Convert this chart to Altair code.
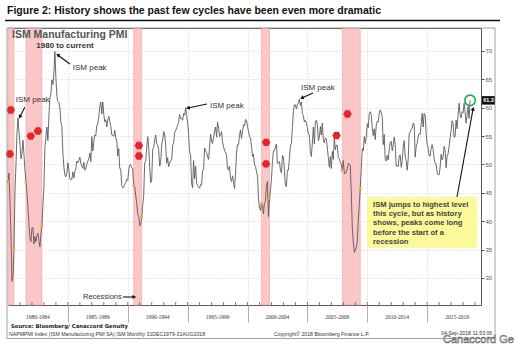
import math
import altair as alt
import pandas as pd

# ---------------- data ----------------
pmi_1980_84 = [47.0, 48.5, 43.6, 37.4, 29.4, 30.3, 35.0, 45.5, 50.1, 55.5, 58.2, 55.8,
               53.4, 51.0, 51.9, 54.3, 51.9, 49.0, 47.0, 45.0, 42.5, 39.5, 37.0, 36.4,
               38.8, 38.9, 36.0, 37.3, 36.4, 37.4, 37.9, 36.6, 35.5, 37.7, 39.3, 42.8,
               46.0, 53.2, 54.6, 56.6, 54.2, 58.4, 61.8, 62.4, 64.9, 64.1, 66.0, 69.9,
               65.3, 62.0, 61.1, 60.9, 60.0, 57.4, 56.7, 52.0, 49.5, 48.1, 47.8, 48.5]
pmi_1985_89 = [50.3, 49.0, 47.5, 47.3, 47.4, 48.7, 47.6, 48.8, 49.2, 50.6, 50.3, 50.7,
               51.3, 50.1, 49.7, 49.3, 50.4, 49.0, 49.2, 50.1, 50.6, 51.0, 52.0, 50.5,
               54.9, 52.4, 53.9, 55.2, 55.0, 56.9, 57.1, 58.5, 60.2, 61.0, 58.9, 61.0,
               58.8, 57.5, 57.9, 56.6, 57.8, 58.5, 57.6, 56.8, 55.2, 55.1, 55.0, 56.0,
               54.7, 54.1, 51.5, 52.8, 49.3, 49.2, 46.3, 45.9, 46.0, 46.5, 46.8, 47.4]
pmi_1990_94 = [47.2, 49.1, 49.9, 50.0, 49.5, 49.2, 46.3, 46.1, 44.5, 43.2, 41.3, 40.8,
               39.2, 39.4, 40.7, 42.8, 44.5, 50.3, 50.6, 52.9, 54.9, 53.1, 49.5, 46.8,
               47.3, 52.7, 53.0, 54.3, 55.2, 53.6, 53.4, 52.6, 49.7, 50.4, 53.6, 54.2,
               55.8, 55.2, 53.5, 50.2, 51.2, 49.6, 50.2, 50.7, 50.8, 53.4, 53.8, 55.6,
               56.0, 56.5, 56.9, 57.4, 58.8, 58.1, 58.1, 57.8, 59.0, 58.7, 60.0, 58.6]
pmi_1995_99 = [57.4, 55.1, 52.2, 51.6, 46.7, 45.9, 50.7, 47.5, 49.7, 46.6, 46.3, 46.0,
               45.8, 46.5, 46.4, 49.0, 49.1, 52.9, 52.4, 52.1, 51.3, 50.9, 53.2, 55.3,
               54.1, 53.7, 54.8, 55.9, 56.6, 54.8, 57.5, 56.4, 54.9, 55.3, 55.8, 53.9,
               53.1, 52.4, 52.2, 51.6, 49.3, 49.0, 49.7, 47.5, 47.0, 48.0, 46.8, 45.8,
               48.5, 52.1, 53.5, 53.5, 55.0, 56.1, 54.6, 55.8, 57.0, 56.8, 57.9, 57.8]
pmi_2000_04 = [56.7, 55.8, 54.9, 54.7, 53.2, 51.4, 51.8, 49.9, 49.7, 48.7, 47.9, 43.9,
               42.3, 41.9, 43.1, 42.7, 41.3, 43.2, 43.5, 46.3, 47.0, 40.8, 44.1, 45.3,
               47.5, 50.7, 52.4, 52.4, 53.1, 53.6, 50.2, 50.3, 50.5, 49.0, 48.5, 51.6,
               51.3, 48.8, 46.3, 46.1, 49.0, 49.0, 51.0, 53.3, 53.7, 56.5, 59.3, 60.5,
               60.5, 59.8, 60.6, 60.8, 61.5, 60.4, 61.0, 59.0, 58.5, 57.5, 57.8, 57.3]
pmi_2005_09 = [56.4, 55.3, 55.2, 52.3, 51.4, 53.8, 56.6, 53.6, 57.5, 57.8, 57.0, 54.2,
               54.8, 56.7, 55.2, 57.3, 54.4, 53.8, 54.7, 54.5, 52.9, 51.2, 49.5, 51.4,
               49.3, 52.3, 50.9, 54.7, 52.6, 53.4, 53.4, 51.2, 51.0, 50.4, 50.0, 49.0,
               50.7, 48.3, 48.6, 48.6, 49.3, 50.2, 50.0, 49.9, 44.8, 38.9, 36.2, 34.5,
               34.9, 35.5, 36.4, 40.1, 42.8, 45.8, 49.2, 52.8, 52.4, 54.9, 53.7, 54.9]
pmi_2010_14 = [57.2, 56.5, 59.0, 59.3, 58.8, 56.4, 55.1, 56.3, 54.4, 56.9, 57.6, 57.5,
               59.0, 59.6, 59.1, 58.5, 53.5, 55.3, 50.9, 50.6, 51.6, 50.8, 52.7, 53.9,
               54.1, 52.4, 53.4, 54.8, 53.5, 49.7, 49.8, 49.6, 51.5, 51.7, 49.5, 50.7,
               53.1, 54.2, 51.3, 50.7, 49.0, 50.9, 55.4, 55.7, 56.2, 56.4, 57.3, 57.0,
               51.3, 53.2, 53.7, 54.9, 55.4, 55.3, 57.1, 59.0, 56.6, 59.0, 58.7, 55.5]
pmi_2015_18 = [53.5, 52.9, 51.5, 51.5, 52.8, 53.5, 52.7, 51.1, 50.2, 50.1, 48.6, 48.2,
               48.2, 49.5, 51.8, 50.8, 51.3, 53.2, 52.6, 49.4, 51.5, 51.9, 53.2, 54.7,
               56.0, 57.7, 57.2, 54.8, 54.9, 57.8, 56.3, 58.8, 60.8, 58.7, 58.2, 59.3,
               59.1, 60.8, 59.3, 57.3, 58.7, 60.2, 58.1, 61.3]

rec_start = ["1980-01-01", "1981-07-01", "1990-07-01", "2001-03-01", "2007-12-01"]
rec_end = ["1980-07-01", "1982-11-01", "1991-03-01", "2001-11-01", "2009-06-01"]

block_labels = ["1980-1984", "1985-1989", "1990-1994", "1995-1999",
                "2000-2004", "2005-2009", "2010-2014", "2015-2019"]
block_mid = ["1982-07-01", "1987-07-01", "1992-07-01", "1997-07-01",
             "2002-07-01", "2007-07-01", "2012-07-01", "2017-07-01"]
grid_years = [1985, 1990, 1995, 2000, 2005, 2010, 2015]
y_ticks = [30, 35, 40, 45, 50, 55, 60, 65, 70]

# event markers (decimal year, value)
hex_year = [1980.23, 1980.15, 1981.9, 1982.5, 1990.93, 1990.93, 2001.55, 2001.55, 2008.35, 2007.43]
hex_val = [59.6, 51.85, 55.0, 55.9, 53.35, 51.5, 53.9, 50.1, 58.9, 55.1]

last_value = 61.3

# ---------------- helpers ----------------
W, H = 473, 277
YMIN, YMAX = 25.24, 74.05
T0, T1 = 1980.0, 2019.5


def iso(y):
    year = int(y)
    t = pd.Timestamp(year=year, month=1, day=1) + pd.Timedelta(days=(y - year) * 365.25)
    return t.strftime("%Y-%m-%dT%H:%M:%S")


def T(s):
    return s + "T00:00:00"


pmi = (pmi_1980_84 + pmi_1985_89 + pmi_1990_94 + pmi_1995_99 +
       pmi_2000_04 + pmi_2005_09 + pmi_2010_14 + pmi_2015_18)
dates = pd.date_range("1980-01-01", periods=len(pmi), freq="MS")
df = pd.DataFrame({"date": dates.strftime("%Y-%m-%dT%H:%M:%S"), "pmi": pmi})

xs = alt.Scale(domain=[alt.DateTime(year=1980, month=1, date=1),
                       alt.DateTime(year=2019, month=7, date=1)], nice=False)
ys = alt.Scale(domain=[YMIN, YMAX], nice=False, zero=False)

FONT = "Liberation Sans"
GRID = "#c4c4c4"

xax = alt.Axis(values=[alt.DateTime(year=y, month=1, date=1) for y in grid_years],
               labels=False, tickSize=17, tickColor="#9a9a9a", tickWidth=0.8, title=None,
               domain=False, grid=True, gridDash=[1, 2], gridColor=GRID, gridWidth=0.8)
yax = alt.Axis(orient="right", values=y_ticks, labelFontSize=6, labelColor="#555", title=None,
               labelFont=FONT, tickSize=3, tickColor="#222", tickWidth=0.8,
               labelPadding=1, domain=False, grid=True, gridDash=[1, 2],
               gridColor=GRID, gridWidth=0.8)


def X(f):
    return alt.X(f, scale=xs, axis=xax)


def Y(f):
    return alt.Y(f, scale=ys, axis=yax)


# ---------------- layers ----------------
bands = alt.Chart(pd.DataFrame({"s": [T(d) for d in rec_start], "e": [T(d) for d in rec_end]})).mark_rect(
    color="#fbc6c6", stroke="#f4a3a3", strokeWidth=0.6
).encode(x=X("s:T"), x2="e:T", y=alt.value(0), y2=alt.value(H))

line = alt.Chart(df).mark_line(color="#5a5a5a", strokeWidth=0.9, clip=True).encode(
    x=X("date:T"), y=Y("pmi:Q"))

rec_dates = [T(d) for d in rec_start + rec_end]
dots = alt.Chart(df[df["date"].isin(rec_dates)]).mark_circle(color="#f2a43a", size=9, opacity=1).encode(
    x=X("date:T"), y=Y("pmi:Q"))

hex_path = "M -1 0 L -0.5 -0.866 L 0.5 -0.866 L 1 0 L 0.5 0.866 L -0.5 0.866 Z"
hexes = alt.Chart(pd.DataFrame({"d": [iso(y) for y in hex_year], "v": hex_val})).mark_point(
    shape=hex_path, filled=True, color="#e3262a", size=72, opacity=1
).encode(x=X("d:T"), y=Y("v:Q"))

peak_text = pd.DataFrame({"d": [iso(1980.65), iso(1985.41), iso(1996.86), iso(2004.46)],
                          "v": [61.4, 67.0, 60.3, 63.5], "t": ["ISM peak"] * 4})
peak_labels = alt.Chart(peak_text).mark_text(align="left", baseline="middle", font=FONT,
                                               fontSize=8, color="#333").encode(
    x=X("d:T"), y=Y("v:Q"), text="t:N")

arrows = [  # tail year, tail value, tip year, tip value
    (1981.40, 60.1, 1980.99, 58.4),
    (1985.16, 67.7, 1984.16, 69.3),
    (1996.61, 60.66, 1995.02, 59.96),
    (2005.46, 62.6, 2004.54, 61.72),
    (2017.49, 44.27, 2018.83, 59.8),
    (1989.59, 26.65, 1990.55, 26.65),
]


def angle(a):
    dx = (a[2] - a[0]) * W / (T1 - T0)
    dy = -(a[3] - a[1]) * H / (YMAX - YMIN)
    return math.degrees(math.atan2(dx, -dy)) % 360


arr_df = pd.DataFrame({"d0": [iso(a[0]) for a in arrows], "v0": [a[1] for a in arrows],
                       "d1": [iso(a[2]) for a in arrows], "v1": [a[3] for a in arrows],
                       "ang": [angle(a) for a in arrows]})
arrow_lines = alt.Chart(arr_df).mark_rule(color="#111", strokeWidth=1.1).encode(
    x=X("d0:T"), y=Y("v0:Q"), x2="d1:T", y2="v1:Q")
arrow_heads = alt.Chart(arr_df).mark_point(shape="triangle-up", filled=True, color="#111",
                                           size=18, opacity=1).encode(
    x=X("d1:T"), y=Y("v1:Q"), angle=alt.Angle("ang:Q", scale=None))

recess_txt = alt.Chart(pd.DataFrame({"d": [iso(1989.5)], "v": [26.65], "t": ["Recessions"]})).mark_text(
    align="right", baseline="middle", font=FONT, fontSize=7.5, color="#333").encode(
    x=X("d:T"), y=Y("v:Q"), text="t:N")

ybox = alt.Chart(pd.DataFrame({"d0": [iso(2009.98)], "d1": [iso(2019.17)], "v0": [44.27], "v1": [35.29]})).mark_rect(
    color="#fbf99a").encode(x=X("d0:T"), x2="d1:T", y=Y("v0:Q"), y2="v1:Q")
ybox_txt = alt.Chart(pd.DataFrame({"d": [iso(2010.48)], "v": [43.6],
                                   "t": [["ISM jumps to highest level", "this cycle, but as history",
                                          "shows, peaks come long", "before the start of a", "recession"]]})).mark_text(
    align="left", baseline="top", font=FONT, fontSize=7.6, fontWeight="bold", color="#444",
    lineHeight=9.3).encode(x=X("d:T"), y=Y("v:Q"), text="t")

ring = alt.Chart(df.tail(1)).mark_point(shape="circle", filled=False, color="#2aa55a",
                                        strokeWidth=1.6, size=110, opacity=1).encode(
    x=X("date:T"), y=Y("pmi:Q"))

tag = alt.Chart(pd.DataFrame({"v0": [last_value + 0.75], "v1": [last_value - 0.75]})).mark_rect(
    color="#111").encode(x=alt.value(474), x2=alt.value(487), y=Y("v0:Q"), y2="v1:Q")
tag_txt = alt.Chart(pd.DataFrame({"v": [last_value], "t": [f"{last_value:.1f}"]})).mark_text(
    font=FONT, fontSize=5.5, fontWeight="bold", color="white", baseline="middle").encode(
    x=alt.value(480.5), y=Y("v:Q"), text="t:N")

yr_ticks = alt.Chart(pd.DataFrame({"d": [T(f"{y}-01-01") for y in range(1981, 2020)]})).mark_rule(
    color="#444", strokeWidth=0.7).encode(x=X("d:T"), y=alt.value(H - 3), y2=alt.value(H))

blocks = alt.Chart(pd.DataFrame({"d": [T(d) for d in block_mid], "t": block_labels})).mark_text(
    font="Liberation Serif", fontSize=5.5, color="#333", baseline="middle").encode(
    x=X("d:T"), y=alt.value(H + 12), text="t:N")


# ---------------- frame texts (page furniture) ----------------
def txt(s, x, y, **kw):
    return alt.Chart(pd.DataFrame({"t": [s]})).mark_text(**kw).encode(
        x=alt.value(x), y=alt.value(y), text="t:N")


title = txt("Figure 2: History shows the past few cycles have been even more dramatic", -1, -17,
            align="left", baseline="middle", font=FONT, fontSize=10.5, fontWeight="bold", color="#111")
title_rule = alt.Chart(pd.DataFrame({"a": [0]})).mark_rule(color="#111", strokeWidth=1.5).encode(
    x=alt.value(-3), x2=alt.value(492), y=alt.value(-7.5))
outer = alt.Chart(pd.DataFrame({"a": [0]})).mark_rect(fill=None, stroke="#8a8a8a", strokeWidth=0.8).encode(
    x=alt.value(-1), x2=alt.value(487), y=alt.value(0), y2=alt.value(310.5))
heading = txt("ISM Manufacturing PMI", 4, 7, align="left", baseline="middle", font=FONT,
              fontSize=10.5, fontWeight="bold", color="#555")
sub = txt("1980 to current", 57, 17.5, align="center", baseline="middle", font=FONT,
          fontSize=8, fontWeight="bold", color="#333")
source = txt("Source: Bloomberg/ Canaccord Genuity", 3, 298, align="left", baseline="middle",
             font="DejaVu Sans", fontSize=5.3, fontWeight="bold", color="#222")
foot1 = txt("NAPMPMI Index (ISM Manufacturing PMI SA) ISM  Monthly 31DEC1979-31AUG2018", 1, 306,
            align="left", baseline="middle", font=FONT, fontSize=5.2, color="#333")
foot2 = txt("Copyright\u00a9 2018 Bloomberg Finance L.P.", 266, 306, align="left", baseline="middle",
            font=FONT, fontSize=5.2, color="#333")
foot3 = txt("04-Sep-2018 11:53:06", 433, 305, align="left", baseline="middle",
            font=FONT, fontSize=5.2, color="#333")
mark = txt("Canaccord Ge", 435, 312, align="left", baseline="middle", font=FONT, fontSize=11,
           color="white", stroke="#666", strokeWidth=0.6)

chart = alt.layer(
    bands, line, dots, hexes, yr_ticks, blocks,
    arrow_lines, arrow_heads, peak_labels, recess_txt,
    ybox, ybox_txt, ring, tag, tag_txt,
    outer, title, title_rule, heading, sub, source, foot1, foot2, foot3, mark
).properties(
    width=W, height=H, autosize="none",
    padding={"left": 8, "top": 28, "right": 34, "bottom": 49},
    background="white"
).configure_view(stroke="#5a5a5a", strokeWidth=1)

chart.save("out.html", embed_options={"renderer": "svg", "actions": False})
